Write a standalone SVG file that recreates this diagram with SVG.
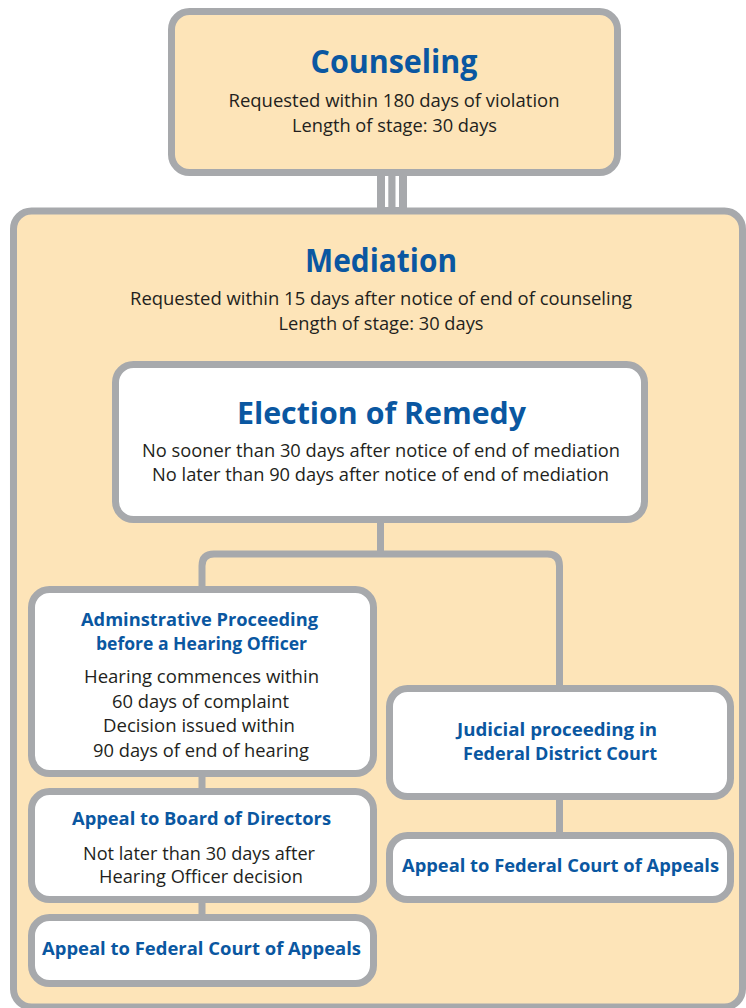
<svg xmlns="http://www.w3.org/2000/svg" width="746" height="1008" viewBox="0 0 746 1008">
<style>
.box{stroke:#A7A9AC;stroke-width:7}
.cream{fill:#FDE4B8}
.white{fill:#FFFFFF}
.conn{fill:none;stroke:#A7A9AC;stroke-width:7}
text{text-anchor:middle;font-family:"Open Sans","Noto Sans","Liberation Sans",sans-serif}
.title{font-weight:bold;fill:#0A57A1}
.sub{font-weight:bold;fill:#0A57A1;font-size:18px}
.body{fill:#231F20;font-size:17.8px}
</style>
<rect width="746" height="1008" fill="#FFFFFF"/>
<g id="mediation">
<rect class="box cream" x="13.5" y="211" width="729" height="796" rx="18"/>
<text class="title" x="381" y="272" font-size="32" textLength="152" lengthAdjust="spacingAndGlyphs">Mediation</text>
<text class="body" x="381" y="305" textLength="502" lengthAdjust="spacingAndGlyphs">Requested within 15 days after notice of end of counseling</text>
<text class="body" x="381" y="330" textLength="205" lengthAdjust="spacingAndGlyphs">Length of stage: 30 days</text>
</g>
<g id="connectors">
<rect x="377" y="172" width="30" height="37" fill="#A7A9AC"/>
<rect x="385" y="176" width="3.3" height="31" fill="#FFFFFF"/>
<rect x="395.5" y="176" width="3.5" height="31" fill="#FFFFFF"/>
<path class="conn" d="M380.5 519 V554"/>
<path class="conn" d="M202 590 V566 Q202 554 214 554 H547.5 Q559.5 554 559.5 566 V689"/>
<path class="conn" d="M202 773 V792"/>
<path class="conn" d="M202 899 V918"/>
<path class="conn" d="M559.5 796 V836"/>
</g>
<g id="counseling">
<rect class="box cream" x="171.5" y="11.5" width="446" height="161" rx="18"/>
<text class="title" x="394" y="73" font-size="33" textLength="167" lengthAdjust="spacingAndGlyphs">Counseling</text>
<text class="body" x="394" y="107" textLength="331" lengthAdjust="spacingAndGlyphs">Requested within 180 days of violation</text>
<text class="body" x="394.5" y="132" textLength="205" lengthAdjust="spacingAndGlyphs">Length of stage: 30 days</text>
</g>
<g id="election">
<rect class="box white" x="115.5" y="364.5" width="529" height="155" rx="18"/>
<text class="title" x="381.5" y="424" font-size="31" textLength="289" lengthAdjust="spacingAndGlyphs">Election of Remedy</text>
<text class="body" x="381" y="457" textLength="478" lengthAdjust="spacingAndGlyphs">No sooner than 30 days after notice of end of mediation</text>
<text class="body" x="380.5" y="481" textLength="457" lengthAdjust="spacingAndGlyphs">No later than 90 days after notice of end of mediation</text>
</g>
<g id="admin">
<rect class="box white" x="31.5" y="589.5" width="342" height="184" rx="18"/>
<text class="sub" x="199.5" y="626" textLength="237" lengthAdjust="spacingAndGlyphs">Adminstrative Proceeding</text>
<text class="sub" x="201.5" y="650" textLength="211" lengthAdjust="spacingAndGlyphs">before a Hearing Officer</text>
<text class="body" x="201.5" y="683" textLength="235" lengthAdjust="spacingAndGlyphs">Hearing commences within</text>
<text class="body" x="200.5" y="708" textLength="177" lengthAdjust="spacingAndGlyphs">60 days of complaint</text>
<text class="body" x="199" y="732" textLength="192" lengthAdjust="spacingAndGlyphs">Decision issued within</text>
<text class="body" x="201" y="757" textLength="216" lengthAdjust="spacingAndGlyphs">90 days of end of hearing</text>
</g>
<g id="board">
<rect class="box white" x="31.5" y="791.5" width="342" height="108" rx="18"/>
<text class="sub" x="201.5" y="825" textLength="259" lengthAdjust="spacingAndGlyphs">Appeal to Board of Directors</text>
<text class="body" x="199" y="860" textLength="232" lengthAdjust="spacingAndGlyphs">Not later than 30 days after</text>
<text class="body" x="201" y="883" textLength="204" lengthAdjust="spacingAndGlyphs">Hearing Officer decision</text>
</g>
<g id="appeal-left">
<rect class="box white" x="31.5" y="917.5" width="342" height="66" rx="18"/>
<text class="sub" x="201.5" y="955" textLength="319" lengthAdjust="spacingAndGlyphs">Appeal to Federal Court of Appeals</text>
</g>
<g id="judicial">
<rect class="box white" x="389.5" y="688.5" width="341" height="108" rx="18"/>
<text class="sub" x="557" y="736" textLength="200" lengthAdjust="spacingAndGlyphs">Judicial proceeding in</text>
<text class="sub" x="560" y="760" textLength="194" lengthAdjust="spacingAndGlyphs">Federal District Court</text>
</g>
<g id="appeal-right">
<rect class="box white" x="389.5" y="835.5" width="341" height="64" rx="18"/>
<text class="sub" x="560.5" y="872" textLength="317" lengthAdjust="spacingAndGlyphs">Appeal to Federal Court of Appeals</text>
</g>
</svg>
